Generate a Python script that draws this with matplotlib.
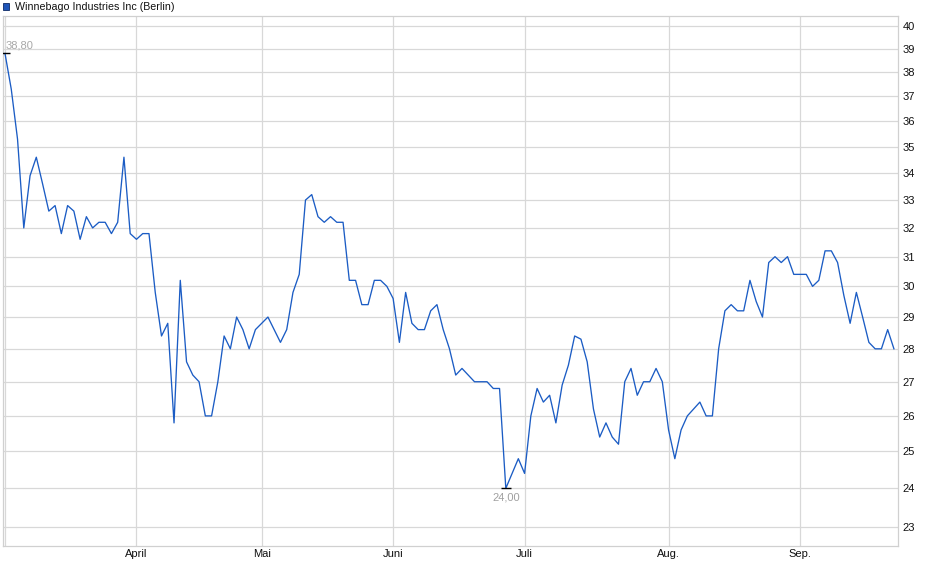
import numpy as np
import matplotlib
matplotlib.use("Agg")
import matplotlib.pyplot as plt
from matplotlib.patches import Rectangle
from matplotlib.ticker import FixedLocator, NullLocator, FixedFormatter

plt.rcParams['font.family'] = ['Liberation Sans', 'DejaVu Sans']

title = "Winnebago Industries Inc (Berlin)"

# daily closing prices (EUR), trading-day indexed, grouped by month
march = [38.8, 37.3, 35.3, 32.0, 33.9, 34.6, 33.6, 32.6, 32.8, 31.8, 32.8,
         32.6, 31.6, 32.4, 32.0, 32.2, 32.2, 31.8, 32.2, 34.6, 31.8]
april = [31.6, 31.8, 31.8, 29.8, 28.4, 28.8, 25.8, 30.2, 27.6, 27.2, 27.0,
         26.0, 26.0, 27.0, 28.4, 28.0, 29.0, 28.6, 28.0, 28.6]
may = [28.8, 29.0, 28.6, 28.2, 28.6, 29.8, 30.4, 33.0, 33.2, 32.4, 32.2,
       32.4, 32.2, 32.2, 30.2, 30.2, 29.4, 29.4, 30.2, 30.2, 30.0]
june = [29.6, 28.2, 29.8, 28.8, 28.6, 28.6, 29.2, 29.4, 28.6, 28.0, 27.2,
        27.4, 27.2, 27.0, 27.0, 27.0, 26.8, 26.8, 24.0, 24.4, 24.8]
july = [24.4, 26.0, 26.8, 26.4, 26.6, 25.8, 26.9, 27.5, 28.4, 28.3, 27.6,
        26.2, 25.4, 25.8, 25.4, 25.2, 27.0, 27.4, 26.6, 27.0, 27.0, 27.4, 27.0]
aug = [25.6, 24.8, 25.6, 26.0, 26.2, 26.4, 26.0, 26.0, 28.0, 29.2, 29.4,
       29.2, 29.2, 30.2, 29.5, 29.0, 30.8, 31.0, 30.8, 31.0, 30.4]
sep = [30.4, 30.4, 30.0, 30.2, 31.2, 31.2, 30.8, 29.7, 28.8, 29.8, 29.0,
       28.2, 28.0, 28.0, 28.6, 28.0]

month_labels = ["April", "Mai", "Juni", "Juli", "Aug.", "Sep."]
y_ticks = list(range(23, 41))

prices = np.array(march + april + may + june + july + aug + sep)
x = np.arange(len(prices))
month_starts = np.cumsum([len(m) for m in (march, april, may, june, july, aug)])

W, H = 940, 579
fig = plt.figure(figsize=(W / 100, H / 100), dpi=100)
ax = fig.add_axes([3 / W, 1 - 546 / H, 895 / W, 530 / H])

ax.set_yscale('log')
ax.set_ylim(22.52, 40.44)
ax.set_xlim(-0.32, 142.65)

grid_c = '#d8d8d8'
for t in y_ticks:
    ax.axhline(t, color=grid_c, lw=0.9, zorder=0)
for m in list(month_starts) + [0]:
    ax.axvline(m, color=grid_c, lw=0.9, zorder=0)

ax.plot(x, prices, color='#1b5cc4', lw=0.95, zorder=3)

# max / min markers
imax = int(np.argmax(prices))
imin = int(np.argmin(prices))
for i in (imax, imin):
    ax.plot([i], [prices[i]], marker='_', ms=7, mew=1.0, color='black', zorder=4)
ax.annotate(f"{prices[imax]:.2f}".replace('.', ','), (imax, prices[imax]),
            xytext=(0.5, 2.5), textcoords='offset points', ha='left', va='bottom',
            color='#a8a8a8', fontsize=8)
ax.annotate(f"{prices[imin]:.2f}".replace('.', ','), (imin, prices[imin]),
            xytext=(0, -3), textcoords='offset points', ha='center', va='top',
            color='#a0a0a0', fontsize=8)

ax.yaxis.tick_right()
ax.yaxis.set_major_locator(FixedLocator(y_ticks))
ax.yaxis.set_major_formatter(FixedFormatter([str(t) for t in y_ticks]))
ax.yaxis.set_minor_locator(NullLocator())
ax.tick_params(axis='y', which='both', length=0, pad=3.5, labelsize=8, colors='#111111')

ax.set_xticks(month_starts)
ax.set_xticklabels(month_labels)
ax.tick_params(axis='x', length=0, pad=2, labelsize=8, colors='#111111')

for s in ax.spines.values():
    s.set_color('#d0d0d0')
    s.set_linewidth(0.9)

# legend-like title
fig.patches.append(Rectangle((3.3 / W, 1 - 9.5 / H), 6 / W, 6 / H,
                             transform=fig.transFigure, facecolor='#1f55b8',
                             edgecolor='#0d2a66', lw=0.6))
fig.text(15 / W, 1 - 6.8 / H, title, va='center', ha='left', fontsize=7.7, color='#111111')

fig.savefig('out.png', dpi=100)
